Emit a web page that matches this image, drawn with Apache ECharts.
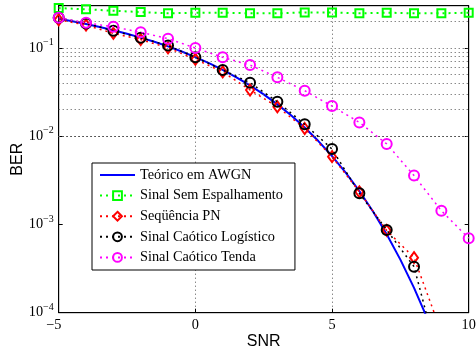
<!DOCTYPE html>
<html>
<head>
<meta charset="utf-8">
<script src="https://cdn.jsdelivr.net/npm/echarts@6/dist/echarts.min.js"></script>
<style>html,body{margin:0;padding:0;background:#fff}#c{width:476px;height:356px}</style>
</head>
<body>
<div id="c"></div>
<script>
// ---- data ----
const snrFine = [-5,-4.5,-4,-3.5,-3,-2.5,-2,-1.5,-1,-0.5,0,0.5,1,1.5,2,2.5,3,3.5,4,4.5,5,5.5,6,6.5,7,7.5,8,8.5,9];
const berTheory = [0.2132,0.1998,0.1861,0.1723,0.1584,0.1445,0.1306,0.1170,0.1038,0.0909,0.0786,0.0671,0.0563,0.0464,0.0375,0.0297,0.0229,0.0172,0.0125,0.00879,0.00595,0.00386,0.00239,0.00140,0.000773,0.000399,0.000191,0.0000841,0.0000336];
const snr = [-5,-4,-3,-2,-1,0,1,2,3,4,5,6,7,8,9,10];
const berSem = [0.282,0.273,0.263,0.254,0.246,0.250,0.250,0.246,0.246,0.252,0.252,0.246,0.250,0.246,0.246,0.250];
const snrPN = [-5,-4,-3,-2,-1,0,1,2,3,4,5,6,7,8,9];
const berPN = [0.208,0.181,0.146,0.124,0.100,0.0741,0.0534,0.0333,0.0215,0.0122,0.00585,0.00234,0.000855,0.00042,0.00006];
const snrLog = [-5,-4,-3,-2,-1,0,1,2,3,4,5,6,7,8,9];
const berLog = [0.219,0.189,0.156,0.130,0.106,0.078,0.0561,0.0403,0.0245,0.0136,0.00714,0.00225,0.000865,0.000332,0.000022];
const berTenda = [0.219,0.192,0.173,0.150,0.127,0.0995,0.078,0.0638,0.0463,0.0327,0.0219,0.0143,0.00815,0.00357,0.00143,0.000697];
const yGridValues = [2e-4,3e-4,4e-4,5e-4,6e-4,7e-4,8e-4,9e-4,1e-3,2e-3,3e-3,4e-3,5e-3,6e-3,7e-3,8e-3,9e-3,1e-2,2e-2,3e-2,4e-2,5e-2,6e-2,7e-2,8e-2,9e-2,1e-1,2e-1];
const names = ['Teórico em AWGN','Sinal Sem Espalhamento','Seqüência PN','Sinal Caótico Logístico','Sinal Caótico Tenda'];
const xTicks = {min:-5, max:10, interval:5};
const yRange = {min:1e-4, max:0.3};

const zip = (xs, ys) => xs.map((x, i) => [x, ys[i]]);
const serif = 'Liberation Serif';
const grid = '#555';
const dotted = [1, 3];

function yLab(v) {
  const e = Math.log10(v);
  if (Math.abs(e - Math.round(e)) > 1e-6) return '';
  return '{a|10}{b|' + String(Math.round(e)).replace('-', '\u2212') + '}';
}
function xLab(v) {
  return v < 0 ? String(v).replace('-', '\u2212') + '\u2002\u2009' : String(v);
}

const yBase = {
  type: 'log', min: yRange.min, max: yRange.max, logBase: 10,
  axisLine: {show: true, onZero: false, lineStyle: {color: '#000', width: 1}},
  axisTick: {show: true, inside: true, length: 4, lineStyle: {color: '#000'}},
  splitLine: {show: false}
};

const chart = echarts.init(document.getElementById('c'), null, {renderer: 'canvas'});
chart.setOption({
  animation: false,
  backgroundColor: '#fff',
  grid: {left: 58.7, right: 7.3, top: 5.7, bottom: 43.3, containLabel: false, outerBoundsMode: 'none',
    show: true, borderColor: '#000', borderWidth: 1},
  xAxis: [{
    type: 'value', min: xTicks.min, max: xTicks.max, interval: xTicks.interval,
    name: 'SNR', nameLocation: 'middle', nameGap: 21, nameMoveOverlap: false,
    nameTextStyle: {fontFamily: 'Liberation Sans', fontSize: 16, color: '#000'},
    axisLine: {show: true, onZero: false, lineStyle: {color: '#000'}},
    axisTick: {show: true, inside: true, length: 4, lineStyle: {color: '#000'}},
    axisLabel: {fontFamily: serif, fontSize: 14.3, color: '#000', margin: 6, formatter: xLab},
    splitLine: {show: true, lineStyle: {color: grid, type: dotted, width: 1}}
  }, {
    type: 'value', position: 'top', min: xTicks.min, max: xTicks.max, interval: xTicks.interval,
    axisLine: {show: true, onZero: false, lineStyle: {color: '#000'}},
    axisTick: {show: true, inside: true, length: 4, lineStyle: {color: '#000'}},
    axisLabel: {show: false}, splitLine: {show: false}
  }],
  yAxis: [Object.assign({}, yBase, {
    name: 'BER', nameLocation: 'middle', nameGap: 33, nameMoveOverlap: false,
    nameTextStyle: {fontFamily: 'Liberation Sans', fontSize: 16, color: '#000'},
    axisLabel: {formatter: yLab, margin: 5, color: '#000',
      rich: {
        a: {fontFamily: serif, fontSize: 14.3, color: '#000', lineHeight: 21, verticalAlign: 'middle'},
        b: {fontFamily: serif, fontSize: 10, color: '#000', lineHeight: 10, verticalAlign: 'top'}
      }}
  }), Object.assign({}, yBase, {
    position: 'right', axisLabel: {show: false}
  })],
  legend: {
    data: [{name: names[0], itemStyle: {opacity: 0}}].concat(names.slice(1).map(n => ({name: n}))),
    orient: 'vertical', left: 92, top: 163,
    padding: [5, 12, 5.6, 7], itemGap: 6.6, itemWidth: 35, itemHeight: 11,
    backgroundColor: '#fff', borderColor: '#000', borderWidth: 1, borderRadius: 0,
    textStyle: {fontFamily: serif, fontSize: 14.3, lineHeight: 14, color: '#000'},
    z: 10
  },
  series: [
    {type: 'line', name: '_grid', data: [], z: 1, silent: true,
      markLine: {silent: true, symbol: 'none', animation: false, label: {show: false},
        lineStyle: {color: grid, type: dotted, width: 1},
        data: yGridValues.map(v => ({yAxis: v}))}},
    {type: 'line', name: names[0], data: zip(snrFine, berTheory), showSymbol: false, symbol: 'none',
      lineStyle: {color: '#0000ff', width: 2}, itemStyle: {color: '#0000ff'}, z: 3},
    {type: 'line', name: names[1], data: zip(snr, berSem), symbol: 'rect', symbolSize: 8,
      lineStyle: {color: '#00ff00', width: 2, type: [2, 4]},
      itemStyle: {color: 'rgba(0,0,0,0)', borderColor: '#00ff00', borderWidth: 2}, z: 4},
    {type: 'line', name: names[2], data: zip(snrPN, berPN), symbol: 'diamond', symbolSize: [8, 11],
      lineStyle: {color: '#ff0000', width: 1.5, type: [2, 4]},
      itemStyle: {color: 'rgba(0,0,0,0)', borderColor: '#ff0000', borderWidth: 2}, z: 5},
    {type: 'line', name: names[3], data: zip(snrLog, berLog), symbol: 'circle', symbolSize: 10,
      lineStyle: {color: '#000000', width: 1.5, type: [2, 4]},
      itemStyle: {color: 'rgba(0,0,0,0)', borderColor: '#000000', borderWidth: 2}, z: 6},
    {type: 'line', name: names[4], data: zip(snr, berTenda), symbol: 'circle', symbolSize: 10,
      lineStyle: {color: '#ff00ff', width: 1.5, type: [2, 4]},
      itemStyle: {color: 'rgba(0,0,0,0)', borderColor: '#ff00ff', borderWidth: 2}, z: 7}
  ]
});
</script>
</body>
</html>
